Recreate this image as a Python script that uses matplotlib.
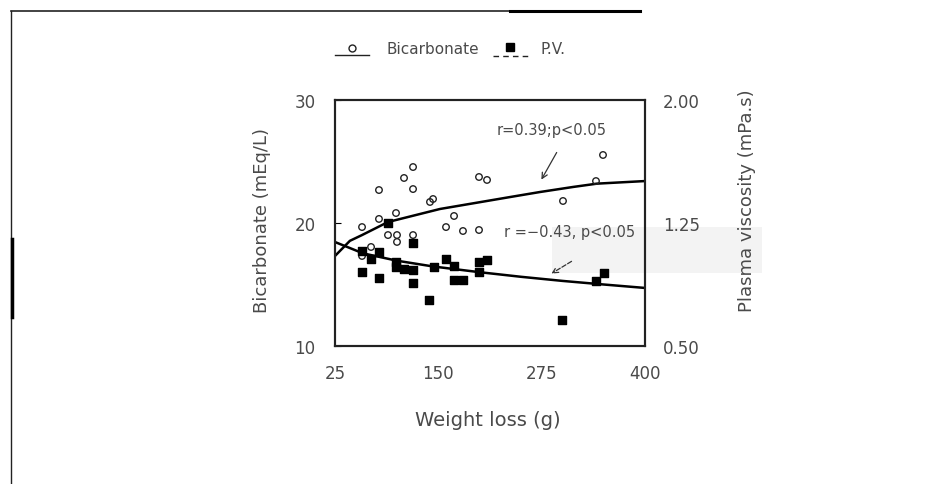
import matplotlib
matplotlib.use("Agg")
import matplotlib.pyplot as plt
from matplotlib.lines import Line2D
from matplotlib.patches import Rectangle

# weight loss (g) vs bicarbonate (mEq/L), open circles
bic_x = [57.7, 78.2, 78.2, 98.8, 119.4, 108.5, 119.4, 139.9, 143.6, 89.1, 100.0, 100.0,
         119.4, 68.6, 57.7, 169.0, 159.3, 179.8, 199.2, 199.2, 208.9, 349.2, 340.7, 300.8]
bic_y = [19.67, 22.68, 20.33, 20.81, 24.55, 23.66, 22.76, 21.71, 21.95, 19.02, 19.02, 18.46,
         19.02, 18.05, 17.32, 20.57, 19.67, 19.35, 19.43, 23.74, 23.50, 25.53, 23.41, 21.79]

# weight loss (g) vs plasma viscosity (mPa.s), filled squares
pv_x = [89.1, 57.7, 68.6, 78.2, 57.7, 78.2, 98.8, 98.8, 108.5, 119.4, 119.4, 119.4,
        138.7, 144.8, 159.3, 169.0, 169.0, 179.8, 199.2, 208.9, 199.2, 350.4, 340.7, 299.6]
pv_y = [1.250, 1.079, 1.031, 1.073, 0.951, 0.915, 1.012, 0.982, 0.970, 1.128, 0.963, 0.884,
        0.780, 0.982, 1.031, 0.988, 0.902, 0.902, 1.012, 1.024, 0.951, 0.945, 0.896, 0.659]

# fitted curves
bic_fit_x = [25, 43, 57.7, 89.1, 152, 236.7, 273, 313, 342, 400]
bic_fit_y = [17.32, 18.55, 19.02, 20.08, 21.14, 22.11, 22.52, 22.93, 23.20, 23.41]
pv_fit_x = [25, 58.9, 100, 143.6, 200, 250, 300, 350, 400]
pv_fit_y = [1.134, 1.065, 1.020, 0.985, 0.950, 0.922, 0.897, 0.875, 0.854]

x_ticks = [25, 150, 275, 400]
bic_ticks = [10, 20, 30]
pv_ticks = [0.50, 1.25, 2.00]
pv_tick_labels = ["0.50", "1.25", "2.00"]

W, H = 931, 485
TXT = "#4a4a4a"


def fx(px):
    return px / W


def fy(py):
    return 1 - py / H


fig = plt.figure(figsize=(W / 100, H / 100), dpi=100)

# faint scan smudge behind the right part of the plot
fig.add_artist(Rectangle((fx(552), fy(274)), fx(210), 46 / H, transform=fig.transFigure,
                         facecolor="#f3f3f3", edgecolor="none", zorder=-1))

ax = fig.add_axes([fx(335), fy(347), fx(310), 246 / H])
ax.set_facecolor("none")
ax2 = ax.twinx()

ax.plot(bic_fit_x, bic_fit_y, color="black", lw=1.8, zorder=2)
ax.scatter(bic_x, bic_y, marker="o", s=22, facecolors="none", edgecolors="#222222",
           linewidths=1.0, zorder=3)
ax2.plot(pv_fit_x, pv_fit_y, color="black", lw=1.8, zorder=2)
ax2.scatter(pv_x, pv_y, marker="s", s=28, color="black", zorder=3)

ax.set_xlim(25, 400)
ax.set_ylim(10, 30)
ax2.set_ylim(0.5, 2.0)
ax.set_xticks(x_ticks)
ax.set_yticks(bic_ticks)
ax2.set_yticks(pv_ticks)
ax2.set_yticklabels(pv_tick_labels)

ax.tick_params(axis="x", length=0, pad=13, labelsize=12, labelcolor=TXT)
ax.tick_params(axis="y", direction="in", length=4, pad=14, labelsize=12, labelcolor=TXT)
ax2.tick_params(axis="y", length=0, pad=13, labelsize=12, labelcolor=TXT)

for a in (ax, ax2):
    for s in a.spines.values():
        s.set_linewidth(1.5)
        s.set_color("#222222")

# regression notes
ax.text(221, 27.64, "r=0.39;p<0.05", fontsize=10.5, color=TXT, va="center")
ax.annotate("", xy=(273, 23.33), xytext=(294.8, 25.93),
            arrowprops=dict(arrowstyle="->", color="#333333", lw=0.9))
ax.text(230, 19.27, "r =\u22120.43, p<0.05", fontsize=10.5, color=TXT, va="center")
ax.annotate("", xy=(283.9, 15.77), xytext=(314, 17.0),
            arrowprops=dict(arrowstyle="->", color="#333333", lw=0.9, linestyle="--"))

# axis titles
fig.text(fx(262), fy(221), "Bicarbonate (mEq/L)", rotation=90, ha="center", va="center",
         fontsize=13, color=TXT)
fig.text(fx(747), fy(201), "Plasma viscosity (mPa.s)", rotation=90, ha="center", va="center",
         fontsize=13, color=TXT)
fig.text(fx(488), fy(421), "Weight loss (g)", ha="center", va="center", fontsize=14, color=TXT)

# hand-built legend above the plot
fig.add_artist(Line2D([fx(335), fx(369)], [fy(56), fy(56)], transform=fig.transFigure,
                      color="#222222", lw=1.0))
fig.add_artist(Line2D([fx(352)], [fy(49)], transform=fig.transFigure, marker="o", ms=5,
                      mfc="none", mec="#222222", mew=1.0, ls="none"))
fig.text(fx(386), fy(50), "Bicarbonate", ha="left", va="center", fontsize=11, color=TXT)
fig.add_artist(Line2D([fx(493), fx(531)], [fy(57), fy(57)], transform=fig.transFigure,
                      color="#222222", lw=1.0, ls=(0, (4, 3))))
fig.add_artist(Line2D([fx(510)], [fy(48)], transform=fig.transFigure, marker="s", ms=6,
                      color="black", ls="none"))
fig.text(fx(541), fy(50), "P.V.", ha="left", va="center", fontsize=11, color=TXT)

# page frame from the scan
fig.add_artist(Line2D([fx(11), fx(11)], [fy(12), 0], transform=fig.transFigure,
                      color="#222222", lw=1.0))
fig.add_artist(Line2D([fx(11), fx(640)], [fy(12), fy(12)], transform=fig.transFigure,
                      color="#222222", lw=1.2))
fig.add_artist(Line2D([fx(510), fx(640)], [fy(12), fy(12)], transform=fig.transFigure,
                      color="black", lw=2.2))
fig.add_artist(Line2D([fx(12), fx(12)], [fy(240), fy(318)], transform=fig.transFigure,
                      color="black", lw=2.5))

fig.savefig("out.png", dpi=100)
